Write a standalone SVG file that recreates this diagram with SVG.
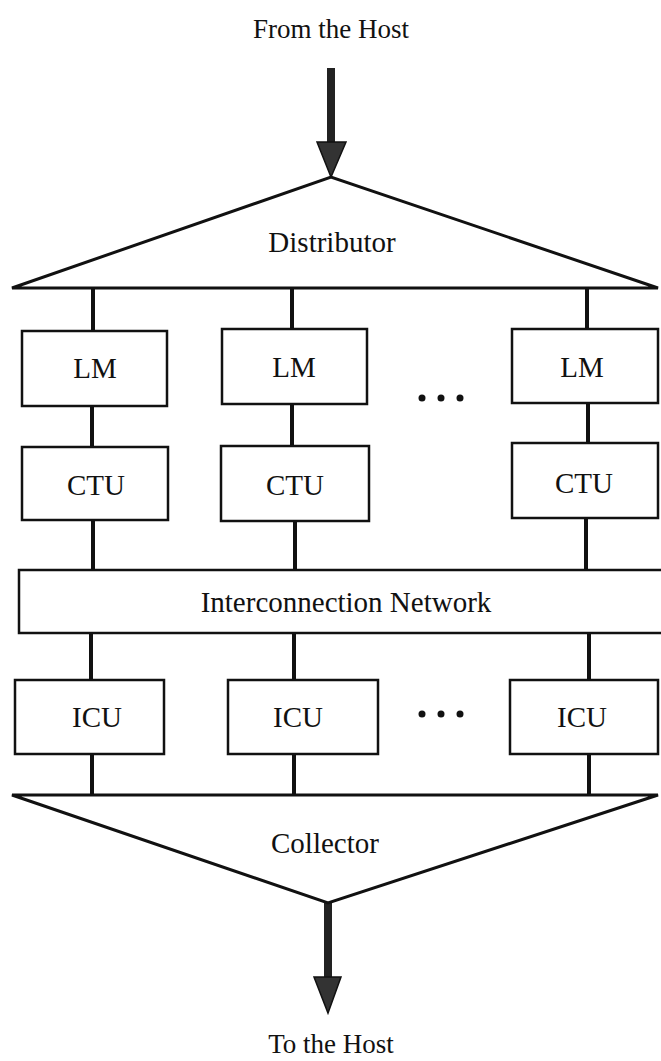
<svg xmlns="http://www.w3.org/2000/svg" width="661" height="1061" viewBox="0 0 661 1061">
  <style>
    .lbl { font-family: "Liberation Serif", "Times New Roman", serif; font-size: 29px; fill: #111; text-anchor: middle; }
    .host { font-size: 27px; }
    .box { fill: #fff; stroke: #111; stroke-width: 2.5; }
    .tri { fill: #fff; stroke: #111; stroke-width: 3; stroke-linejoin: miter; }
    .wire { stroke: #111; stroke-width: 4; fill: none; }
    .shaft { stroke: #222; stroke-width: 8; fill: none; }
    .head { fill: #333; stroke: #111; stroke-width: 1.5; }
    .dot { fill: #111; }
  </style>

  <!-- Connectors -->
  <g id="connectors">
    <!-- host input arrow -->
    <line class="shaft" x1="331" y1="68" x2="331" y2="144"/>
    <polygon class="head" points="317,142 346,142 331,177"/>
    <!-- distributor to LM -->
    <line class="wire" x1="93" y1="288" x2="93" y2="331"/>
    <line class="wire" x1="292" y1="288" x2="292" y2="329"/>
    <line class="wire" x1="587" y1="288" x2="587" y2="329"/>
    <!-- LM to CTU -->
    <line class="wire" x1="92" y1="406" x2="92" y2="447"/>
    <line class="wire" x1="292" y1="404" x2="292" y2="446"/>
    <line class="wire" x1="588" y1="403" x2="588" y2="443"/>
    <!-- CTU to network -->
    <line class="wire" x1="93" y1="520" x2="93" y2="570"/>
    <line class="wire" x1="295" y1="521" x2="295" y2="570"/>
    <line class="wire" x1="586" y1="518" x2="586" y2="570"/>
    <!-- network to ICU -->
    <line class="wire" x1="91" y1="633" x2="91" y2="680"/>
    <line class="wire" x1="294" y1="633" x2="294" y2="680"/>
    <line class="wire" x1="589" y1="633" x2="589" y2="680"/>
    <!-- ICU to collector -->
    <line class="wire" x1="92" y1="754" x2="92" y2="795"/>
    <line class="wire" x1="294" y1="754" x2="294" y2="795"/>
    <line class="wire" x1="589" y1="754" x2="589" y2="795"/>
    <!-- host output arrow -->
    <line class="shaft" x1="328" y1="903" x2="328" y2="980"/>
    <polygon class="head" points="314,977 341,977 328,1013"/>
  </g>

  <!-- Host labels -->
  <g id="host-in">
    <text class="lbl host" x="331" y="38">From the Host</text>
  </g>
  <g id="host-out">
    <text class="lbl host" x="331" y="1053">To the Host</text>
  </g>

  <!-- Distributor -->
  <g id="distributor">
    <polygon class="tri" points="12,288 331,177 658,288"/>
    <text class="lbl" x="332" y="252">Distributor</text>
  </g>

  <!-- Local memories -->
  <g id="lm-1">
    <rect class="box" x="22" y="331" width="145" height="75"/>
    <text class="lbl" x="95" y="378">LM</text>
  </g>
  <g id="lm-2">
    <rect class="box" x="222" y="329" width="145" height="75"/>
    <text class="lbl" x="294" y="377">LM</text>
  </g>
  <g id="lm-n">
    <rect class="box" x="512" y="329" width="146" height="74"/>
    <text class="lbl" x="582" y="377">LM</text>
  </g>
  <g id="dots-upper">
    <circle class="dot" cx="422" cy="398" r="3.5"/>
    <circle class="dot" cx="441" cy="398" r="3.5"/>
    <circle class="dot" cx="460" cy="398" r="3.5"/>
  </g>

  <!-- Computation units -->
  <g id="ctu-1">
    <rect class="box" x="22" y="447" width="146" height="73"/>
    <text class="lbl" x="96" y="495">CTU</text>
  </g>
  <g id="ctu-2">
    <rect class="box" x="221" y="446" width="148" height="75"/>
    <text class="lbl" x="295" y="495">CTU</text>
  </g>
  <g id="ctu-n">
    <rect class="box" x="512" y="443" width="146" height="75"/>
    <text class="lbl" x="584" y="493">CTU</text>
  </g>

  <!-- Interconnection network -->
  <g id="network">
    <rect class="box" x="19" y="570" width="650" height="63"/>
    <text class="lbl" x="346" y="612">Interconnection Network</text>
  </g>

  <!-- Interconnection units -->
  <g id="icu-1">
    <rect class="box" x="15" y="680" width="149" height="74"/>
    <text class="lbl" x="97" y="727">ICU</text>
  </g>
  <g id="icu-2">
    <rect class="box" x="228" y="680" width="150" height="74"/>
    <text class="lbl" x="298" y="727">ICU</text>
  </g>
  <g id="icu-n">
    <rect class="box" x="510" y="680" width="148" height="74"/>
    <text class="lbl" x="582" y="727">ICU</text>
  </g>
  <g id="dots-lower">
    <circle class="dot" cx="422" cy="714" r="3.5"/>
    <circle class="dot" cx="441" cy="714" r="3.5"/>
    <circle class="dot" cx="460" cy="714" r="3.5"/>
  </g>

  <!-- Collector -->
  <g id="collector">
    <polygon class="tri" points="12,795 658,795 328,903"/>
    <text class="lbl" x="325" y="853">Collector</text>
  </g>
</svg>
